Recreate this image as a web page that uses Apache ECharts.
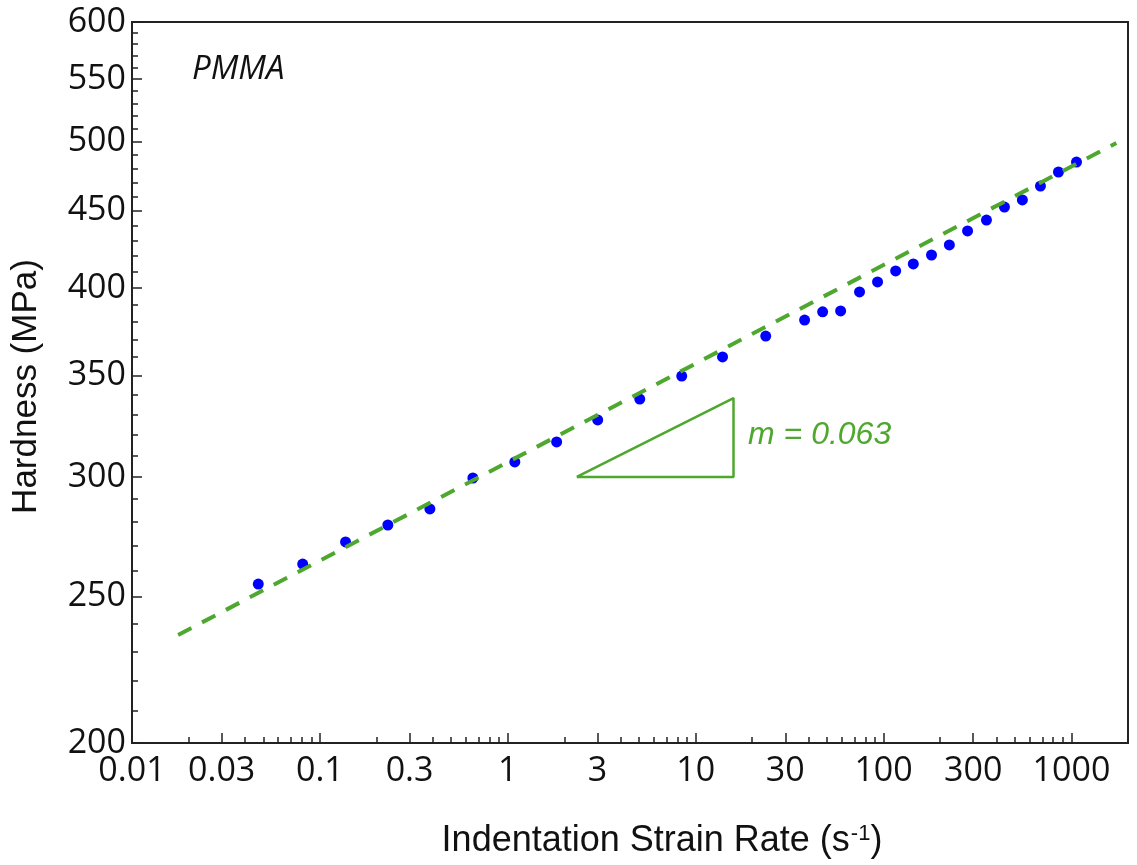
<!DOCTYPE html>
<html>
<head>
<meta charset="utf-8">
<script src="https://cdn.jsdelivr.net/npm/echarts@6/dist/echarts.min.js"></script>
<style>
    html, body { margin: 0; padding: 0; background: #fff; }
    #chart { width: 1137px; height: 865px; }
</style>
</head>
<body>
<div id="chart"></div>
<script>
// measured hardness vs indentation strain rate
const strainRate = [0.047, 0.081, 0.137, 0.23, 0.385, 0.652, 1.09, 1.82, 3.01, 5.04, 8.43, 13.9, 23.6,
    38.0, 47.4, 59.1, 74.5, 92.9, 116, 144, 180, 224, 280, 353, 440, 548, 684, 853, 1064];
const hardness = [254.8, 262.7, 271.7, 278.8, 285.7, 299.5, 306.9, 316.4, 327.2, 337.8, 349.8, 360.2, 371.8,
    381.0, 385.8, 386.3, 397.7, 403.8, 410.6, 415.0, 420.7, 427.2, 436.4, 443.7, 452.6, 457.5, 467.3, 477.4, 484.7];

// power-law fit (dashed) and slope triangle
const fitRate = [0.0176, 1734];
const fitHardness = [235.8, 499.0];
const triangleRate = [2.33, 15.9, 15.9, 2.33];
const triangleHardness = [300, 300, 338.3, 300];

// axis ticks
const xLabelTicks = [0.01, 0.03, 0.1, 0.3, 1, 3, 10, 30, 100, 300, 1000];
const xMinorTicks = [0.02, 0.04, 0.05, 0.06, 0.07, 0.08, 0.09, 0.2, 0.4, 0.5, 0.6, 0.7, 0.8, 0.9,
    2, 4, 5, 6, 7, 8, 9, 20, 40, 50, 60, 70, 80, 90, 200, 400, 500, 600, 700, 800, 900];
const yLabelTicks = [200, 250, 300, 350, 400, 450, 500, 550, 600];
const yMinorTicks = [210, 220, 230, 240, 260, 270, 280, 290, 310, 320, 330, 340, 360, 370, 380, 390,
    410, 420, 430, 440, 460, 470, 480, 490, 510, 520, 530, 540, 560, 570, 580, 590];

const green = '#4ea72e';
const axisColor = '#222';
const labelFont = {fontFamily: 'Open Sans', fontSize: 34, color: '#111'};

const zip = (xs, ys) => xs.map((x, i) => [x, ys[i]]);

const chart = echarts.init(document.getElementById('chart'));

const baseX = {
    type: 'log', logBase: 10, min: 0.01, max: 2000, gridIndex: 0, position: 'bottom',
    splitLine: {show: false}, minorTick: {show: false}, minorSplitLine: {show: false},
};
const baseY = {
    type: 'log', logBase: 10, min: 200, max: 600, gridIndex: 0, position: 'left',
    splitLine: {show: false}, minorTick: {show: false}, minorSplitLine: {show: false},
};

chart.setOption({
    animation: false,
    grid: {
        left: 132, right: 9, top: 22, bottom: 122,
        show: true, borderColor: axisColor, borderWidth: 2, backgroundColor: '#fff'
    },
    xAxis: [
        {
            ...baseX,
            name: 'Indentation Strain Rate (s{sup|-1})',
            nameLocation: 'middle',
            nameGap: 80,
            nameTextStyle: {
                fontFamily: 'Liberation Sans', fontSize: 36, color: '#111', padding: [0, 0, 0, 64],
                rich: {sup: {fontFamily: 'Liberation Sans', fontSize: 22, color: '#111', verticalAlign: 'top', lineHeight: 16, padding: [0, 0, 0, 1]}}
            },
            axisLine: {show: true, lineStyle: {color: axisColor, width: 2}},
            axisTick: {show: true, inside: true, length: 10, lineStyle: {color: axisColor, width: 1.5}, customValues: xLabelTicks},
            axisLabel: {...labelFont, margin: 11, customValues: xLabelTicks, formatter: v => String(v)},
        },
        {
            ...baseX,
            axisLine: {show: false},
            axisTick: {show: true, inside: true, length: 6, lineStyle: {color: axisColor, width: 1.5}, customValues: xMinorTicks},
            axisLabel: {show: false},
        }
    ],
    yAxis: [
        {
            ...baseY,
            name: 'Hardness (MPa)',
            nameLocation: 'middle',
            nameGap: 88,
            nameTextStyle: {fontFamily: 'Liberation Sans', fontSize: 35, color: '#111', padding: [0, 8, 0, 0]},
            axisLine: {show: true, lineStyle: {color: axisColor, width: 2}},
            axisTick: {show: true, inside: true, length: 10, lineStyle: {color: axisColor, width: 1.5}, customValues: yLabelTicks},
            axisLabel: {...labelFont, margin: 6, customValues: yLabelTicks, formatter: v => String(v)},
        },
        {
            ...baseY,
            axisLine: {show: false},
            axisTick: {show: true, inside: true, length: 6, lineStyle: {color: axisColor, width: 1.5}, customValues: yMinorTicks},
            axisLabel: {show: false},
        }
    ],
    series: [
        {
            type: 'scatter',
            data: zip(strainRate, hardness),
            symbol: 'circle',
            symbolSize: 11,
            itemStyle: {color: '#0000ff', opacity: 1},
            z: 2
        },
        {
            type: 'line',
            data: zip(fitRate, fitHardness),
            showSymbol: false,
            lineStyle: {color: green, width: 4, type: [15, 12]},
            z: 3
        },
        {
            type: 'line',
            data: zip(triangleRate, triangleHardness),
            showSymbol: false,
            lineStyle: {color: green, width: 2.5},
            z: 3
        }
    ],
    graphic: [
        {
            type: 'text', left: 192, top: 53,
            style: {text: 'PMMA', fontFamily: 'Open Sans', fontStyle: 'italic', fontSize: 33, fill: '#111'}
        },
        {
            type: 'text', left: 748, top: 419,
            style: {text: 'm = 0.063', fontFamily: 'Liberation Sans', fontStyle: 'italic', fontSize: 32, fill: green}
        }
    ]
});
</script>
</body>
</html>
